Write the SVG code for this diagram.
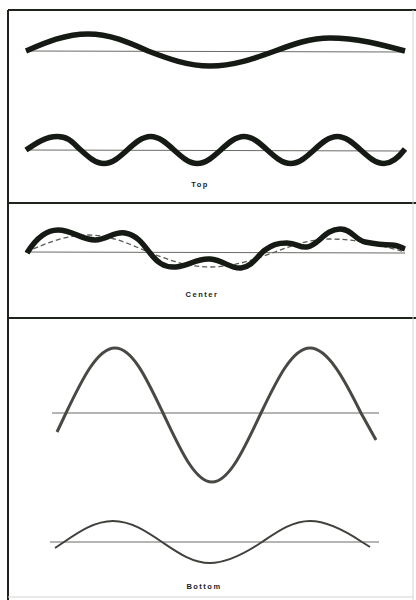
<svg xmlns="http://www.w3.org/2000/svg" width="416" height="600" viewBox="0 0 416 600">
<defs>
<style>
.frame{stroke:#1e241c;stroke-width:2;fill:none}
.faint{stroke:#d4d4d0;stroke-width:1;fill:none}
.axis{stroke:#6a6a66;stroke-width:1;fill:none}
.thick{stroke:#161a14;stroke-width:5.5;fill:none;stroke-linecap:butt;stroke-linejoin:round}
.dash{stroke:#5a5a56;stroke-width:1.3;fill:none;stroke-dasharray:5 3}
.big{stroke:#474a44;stroke-width:3;fill:none}
.small{stroke:#3f423c;stroke-width:2;fill:none}
.lbl{font-family:"Liberation Sans",Arial,sans-serif;font-size:7.5px;fill:#222;letter-spacing:1.5px;text-anchor:middle;font-weight:bold}
</style>
<path id="slow" d="M26,51 C46.2,42.3 65.6,34 88,34 C109.7,34 128.4,42.3 148,51 C168.2,58.7 187.6,66 210,66 C233.5,66 253.8,58.7 275,51 C292.9,44.3 310.1,38 330,38 C357.1,38 380.5,44.3 405,51"/>
</defs>
<rect width="416" height="600" fill="#ffffff"/>
<g id="frame">
<path class="frame" d="M8,10 V600 M8,10 H416 M8,203 H416 M8,318 H416"/>
<path class="faint" d="M413,10 V600 M8,597 H413"/>
</g>
<g id="top-panel">
<g id="top-wave-1">
<line class="axis" x1="28" y1="51" x2="405" y2="52"/>
<use href="#slow" class="thick"/>
</g>
<g id="top-wave-2">
<line class="axis" x1="28" y1="150" x2="405" y2="151"/>
<path class="thick" d="M26,150 C36.1,143.1 45.8,136.5 57.3,136.5 S73.1,143.1 80.7,150 S95.6,163.5 104,163.5 S119.7,156.9 127.3,150 S142.3,136.5 150.7,136.5 S166.4,143.1 174,150 S188.9,163.5 197.3,163.5 S213.1,156.9 220.7,150 S235.6,136.5 244,136.5 S259.7,143.1 267.3,150 S282.3,163.5 290.7,163.5 S306.4,156.9 314,150 S328.9,136.5 337.3,136.5 S353.1,143.1 360.7,150 S375.6,163.5 384,163.5 S399,157 405,149"/>
</g>
<text class="lbl" x="200" y="187">Top</text>
</g>
<g id="center-panel">
<line class="axis" x1="25" y1="252" x2="405" y2="253"/>
<use href="#slow" class="dash" transform="translate(0,201)"/>
<path class="thick" d="M27,253 C35,240 45,230 58,230 C72,230 82,240 95,240 C108,240 113,231 125,233 C137,235 143,244 150,253 C157,262 164,268 176,267 C190,266 196,258 210,259 C224,260 230,269 241,268 C252,267 258,255 265,250 C272,245 277,243 287,243 C297,243 299,248 307,247 C318,246 325,229 340,229 C352,229 355,240 365,242 C375,244 385,245 392,245 C398,245 402,248 405,249"/>
<text class="lbl" x="202" y="297">Center</text>
</g>
<g id="bottom-panel">
<g id="bottom-wave-1">
<line class="axis" x1="52" y1="413" x2="379" y2="413"/>
<path class="big" d="M57,432 L66,413 C81.9,379.7 97.3,348 115,348 S147.1,379.7 163,413 S194.3,482 212,482 S245.1,446.3 261,413 S292.3,348 310,348 S344.7,379.7 361,413 L376,440"/>
</g>
<g id="bottom-wave-2">
<line class="axis" x1="50" y1="542" x2="379" y2="542"/>
<path class="small" d="M55,548 L64,542 C80,531.25 95.3,521 113,521 S146,531.25 162,542 S192.3,563 210,563 S246,552.75 262,542 S292.3,521 310,521 S346,531.25 362,542 L370,547"/>
</g>
<text class="lbl" x="204" y="589">Bottom</text>
</g>
</svg>
